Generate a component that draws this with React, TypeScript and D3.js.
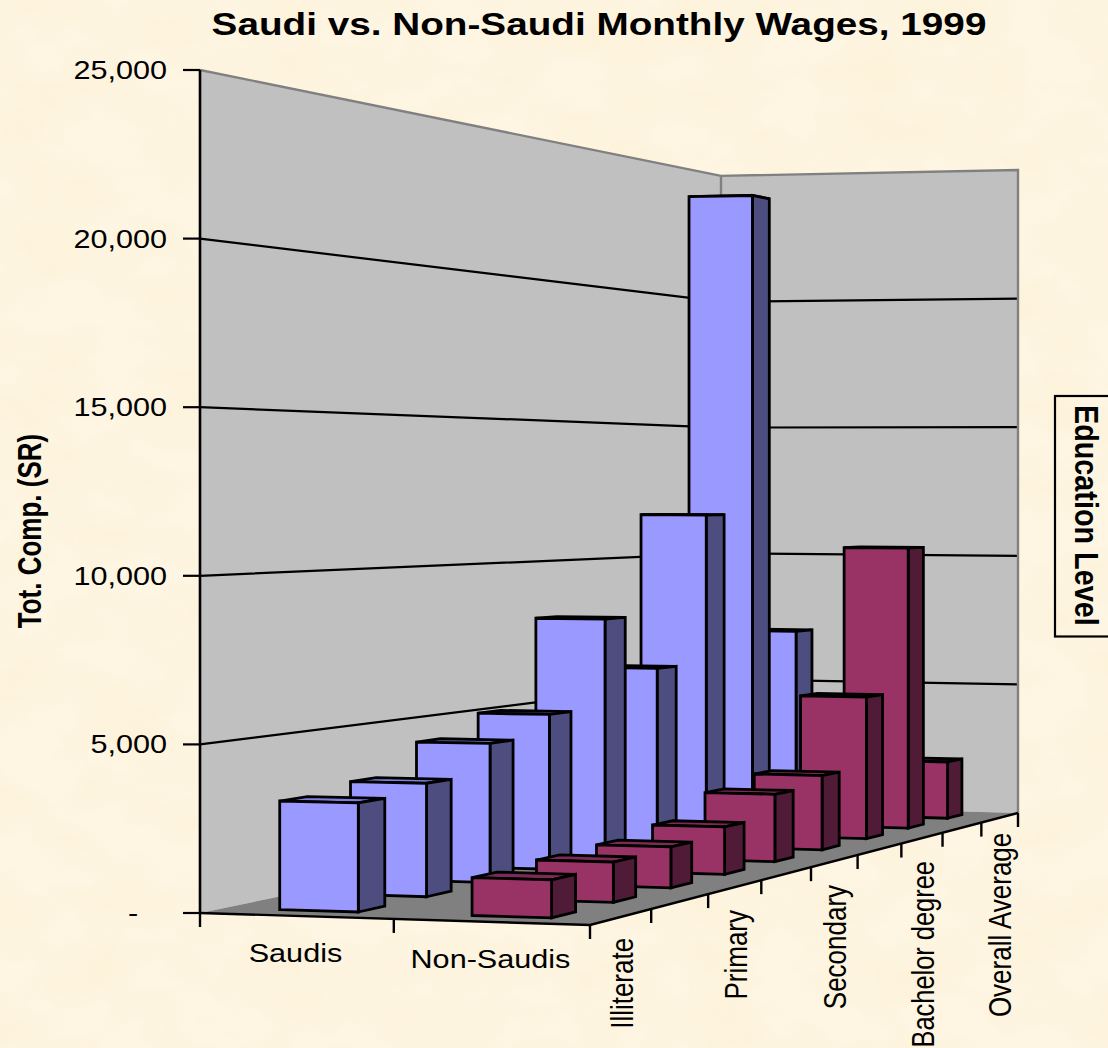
import React from "react";
import * as d3 from "d3";

const title = "Saudi vs. Non-Saudi Monthly Wages, 1999";
const yTitle = "Tot. Comp. (SR)";
const depthTitle = "Education Level";
const seriesNames = ["Saudis", "Non-Saudis"];
const categories = ["Illiterate", "", "Primary", "", "Secondary", "", "Bachelor degree", "", "Overall Average"];
const saudiValues = [3245, 3500, 4444, 5120, 8132, 6241, 11630, 23600, 7066];
const nonSaudiValues = [1117, 1225, 1293, 1550, 2276, 2590, 5098, 10400, 2150];
const yTicks = [0, 5000, 10000, 15000, 20000, 25000];

const W = 1108;
const H = 1048;
const FONT = "'Liberation Sans', Arial, sans-serif";
const SX = 1.2;

// Corners of the chart floor on screen, from which the perspective is derived.
const A = [200, 913];
const B = [590, 925];
const C = [1018, 813];
const D = [721, 805];
const hFront = 843;
const hDen = { u: -0.029, v: 0.34 };

function makeHomography() {
  const dx1 = B[0] - C[0], dx2 = D[0] - C[0], sx = A[0] - B[0] + C[0] - D[0];
  const dy1 = B[1] - C[1], dy2 = D[1] - C[1], sy = A[1] - B[1] + C[1] - D[1];
  const det = dx1 * dy2 - dx2 * dy1;
  const g = (sx * dy2 - dx2 * sy) / det;
  const h = (dx1 * sy - sx * dy1) / det;
  const a = B[0] - A[0] + g * B[0];
  const b = D[0] - A[0] + h * D[0];
  const d = B[1] - A[1] + g * B[1];
  const e = D[1] - A[1] + h * D[1];
  return (u: number, v: number): [number, number] => {
    const w = 1 + g * u + h * v;
    return [(a * u + b * v + A[0]) / w, (d * u + e * v + A[1]) / w];
  };
}
const floorAt = makeHomography();
const yFrac = d3.scaleLinear().domain([0, 25000]).range([0, 1]);
const project = (u: number, v: number, val = 0): [number, number] => {
  const [x, y] = floorAt(u, v);
  const ht = hFront / (1 + hDen.u * u + hDen.v * v);
  return [x, y - ht * yFrac(val)];
};

const uBand = d3.scaleBand<string>().domain(seriesNames).range([0, 1]).paddingInner(0.59).paddingOuter(0.295).align(0.49);
const catIdx = categories.map((_, i) => i);
const vBand = d3.scaleBand<number>().domain(catIdx).range([0, 1]).paddingInner(0.62).paddingOuter(0.31).align(0.52);
const vStep = vBand.step();
const poly = d3.line<[number, number]>();
const closed = (pts: [number, number][]) => poly(pts) + "Z";

const palettes = [
  { front: "#9999ff", side: "#4d4d80", top: "#7f80e0" },
  { front: "#993366", side: "#4f1b36", top: "#7d2a55" },
];

function Bar({ s, i, val }: { s: number; i: number; val: number }) {
  const u0 = uBand(seriesNames[s])!;
  const u1 = u0 + uBand.bandwidth();
  const v0 = vBand(i)!;
  const v1 = v0 + vBand.bandwidth();
  const c = palettes[s];
  const common = { stroke: "#000", strokeWidth: 2.8, strokeLinejoin: "miter" as const };
  return (
    <g>
      <path d={closed([project(u0, v0, val), project(u1, v0, val), project(u1, v1, val), project(u0, v1, val)])} fill={c.top} {...common} />
      <path d={closed([project(u1, v0, 0), project(u1, v1, 0), project(u1, v1, val), project(u1, v0, val)])} fill={c.side} {...common} />
      <path d={closed([project(u0, v0, 0), project(u1, v0, 0), project(u1, v0, val), project(u0, v0, val)])} fill={c.front} {...common} />
    </g>
  );
}

// Text stretched horizontally on screen, as in the reference image.
function SText({ x, y, rot = 0, size, sx = SX, bold, anchor = "middle", children }: any) {
  return (
    <text
      transform={`translate(${x},${y}) scale(${sx},1) rotate(${rot})`}
      fontFamily={FONT}
      fontSize={size}
      fontWeight={bold ? "bold" : "normal"}
      textAnchor={anchor}
      fill="#000"
    >
      {children}
    </text>
  );
}

const depthLabelDy = [21, 0, 23, 0, 24, 0, 23, 0, 15];
const depthLabelSize = [26, 0, 26, 0, 26, 0, 25.4, 0, 26];

export default function App() {
  const floorPts = [project(0, 0), project(1, 0), project(1, 1), project(0, 1)];
  const topD = project(0, 1, 25000);
  const topA = project(0, 0, 25000);
  const topC = project(1, 1, 25000);
  const baseD = project(0, 1);
  const baseC = project(1, 1);
  const fmt = d3.format(",");
  return (
    <svg width={W} height={H} viewBox={`0 0 ${W} ${H}`} style={{ position: "absolute", left: 0, top: 0, display: "block" }}>
      <defs>
        <filter id="parchment" x="0" y="0" width="100%" height="100%">
          <feTurbulence type="fractalNoise" baseFrequency="0.012 0.018" numOctaves={4} seed={7} />
          <feColorMatrix values="0 0 0 0 0.96  0 0 0 0 0.86  0 0 0 0 0.62  1.6 0 0 0 -0.62" />
        </filter>
      </defs>
      <rect width={W} height={H} fill="#fef5e2" />
      <rect width={W} height={H} filter="url(#parchment)" opacity={0.55} />

      <text
        transform={`translate(599,35) scale(1.21,1)`}
        fontFamily={FONT}
        fontSize={32}
        fontWeight="bold"
        textAnchor="middle"
      >
        {title}
      </text>

      {/* walls and floor */}
      <path d={closed([project(0, 0), project(0, 1), topD, topA])} fill="#c0c0c0" />
      <path d={closed([project(0, 1), project(1, 1), topC, topD])} fill="#c0c0c0" />
      <path d={closed(floorPts)} fill="#808080" />
      {yTicks.slice(1, -1).map((t) => (
        <path key={t} d={poly([project(0, 0, t), project(0, 1, t), project(1, 1, t)])!} fill="none" stroke="#000" strokeWidth={2.2} />
      ))}
      <path d={poly([topA, topD, topC, baseC])!} fill="none" stroke="#808080" strokeWidth={2.4} />
      <path d={poly([topD, baseD])!} fill="none" stroke="#808080" strokeWidth={2.4} />
      <path d={poly([project(0, 0), project(1, 0), project(1, 1)])!} fill="none" stroke="#000" strokeWidth={2.4} />
      <path d={poly([topA, project(0, 0)])!} fill="none" stroke="#000" strokeWidth={2.6} />

      {/* bars, far to near, blue row behind the red row */}
      {saudiValues.map((_, i) => 8 - i).map((i) => <Bar key={"s" + i} s={0} i={i} val={saudiValues[i]} />)}
      {nonSaudiValues.map((_, i) => 8 - i).map((i) => <Bar key={"n" + i} s={1} i={i} val={nonSaudiValues[i]} />)}

      {/* value axis */}
      {yTicks.map((t) => {
        const [x, y] = project(0, 0, t);
        return (
          <g key={t}>
            <line x1={x - 17} x2={x} y1={y} y2={y} stroke="#000" strokeWidth={2.2} />
            {t === 0 ? (
              <SText x={133} y={y + 9} size={25.5}>-</SText>
            ) : (
              <SText x={167} y={y + 9} size={25.5} anchor="end">{fmt(t)}</SText>
            )}
          </g>
        );
      })}
      <SText x={41} y={531} rot={-90} size={26} sx={1.28} bold>{yTitle}</SText>

      {/* series axis */}
      {[0, 0.5, 1].map((u) => {
        const [x, y] = project(u, 0);
        return <line key={u} x1={x} x2={x} y1={y} y2={y + 14} stroke="#000" strokeWidth={2.4} />;
      })}
      {seriesNames.map((s) => {
        const [x, y] = project(uBand(s)! + uBand.bandwidth() / 2, 0);
        return <SText key={s} x={x} y={y + 46} size={25.5}>{s}</SText>;
      })}

      {/* category axis */}
      {d3.range(1, 10).map((k) => {
        const [x, y] = project(1, (k * vStep));
        return <line key={k} x1={x} x2={x} y1={y} y2={y + 14} stroke="#000" strokeWidth={2.4} />;
      })}
      {categories.map((c, i) => {
        if (!c) return null;
        const [x, y] = project(1, (i + 0.5) * vStep);
        return (
          <SText key={c} x={x + 11.5} y={y + depthLabelDy[i]} rot={-90} size={depthLabelSize[i]} sx={1.24} anchor="end">{c}</SText>
        );
      })}

      {/* depth-axis title */}
      <rect x={1055} y={396} width={60} height={240.5} fill="none" stroke="#000" strokeWidth={2.2} />
      <SText x={1075} y={405} rot={90} size={28.8} sx={1.15} bold anchor="start">{depthTitle}</SText>
    </svg>
  );
}
